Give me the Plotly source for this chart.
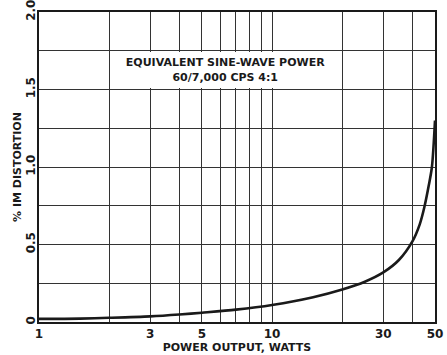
import math
import plotly.graph_objects as go

# Intermodulation distortion vs. power output (equivalent sine-wave power)
power_watts = [1, 1.5, 2, 3, 4, 5, 7, 10, 15, 20, 25, 30, 35, 40, 43, 45, 47, 48.5, 50]
im_distortion_pct = [0.02, 0.022, 0.027, 0.036, 0.048, 0.06, 0.08, 0.11, 0.16, 0.21,
                     0.26, 0.32, 0.40, 0.52, 0.63, 0.74, 0.88, 1.0, 1.3]

x_grid_vals = [1, 2, 3, 4, 5, 6, 7, 8, 9, 10, 20, 30, 40, 50]
x_tick_text = ["1", "", "3", "", "5", "", "", "", "", "10", "", "30", "", "50"]
y_grid_vals = [0, 0.25, 0.5, 0.75, 1.0, 1.25, 1.5, 1.75, 2.0]
y_tick_text = ["0", "", "0.5", "", "1.0", "", "1.5", "", "2.0"]

box_lines = ["EQUIVALENT SINE-WAVE POWER", "60/7,000 CPS 4:1"]

FONT = "DejaVu Sans"
INK = "#1a1a1a"

fig = go.Figure()
fig.add_trace(go.Scatter(
    x=power_watts, y=im_distortion_pct, mode="lines",
    line=dict(color=INK, width=2.6, shape="spline", smoothing=0.8),
    showlegend=False, hoverinfo="skip",
))

# caption panel blanking the grid cell between 2 and 20 W, 1.5 and 1.75 %
fig.add_annotation(
    x=math.log10(math.sqrt(2 * 20)), y=1.625, xref="x", yref="y",
    text="<b>" + "<br>".join(box_lines) + "</b>",
    showarrow=False, bgcolor="white", borderpad=0, borderwidth=0,
    width=229, height=36, align="center",
    font=dict(family=FONT, size=11, color=INK),
)

fig.update_xaxes(
    type="log", range=[0, math.log10(50)], automargin=False,
    tickmode="array", tickvals=x_grid_vals, ticktext=x_tick_text,
    ticklabeloverflow="allow",
    showgrid=True, gridcolor="#333333", gridwidth=1.3,
    showline=True, linecolor=INK, linewidth=1.8, mirror=True,
    ticks="", zeroline=False,
    tickfont=dict(family=FONT, size=12, color=INK, weight="bold"),
    title=dict(text="<b>POWER OUTPUT, WATTS</b>", standoff=2,
               font=dict(family=FONT, size=11, color=INK)),
)
fig.update_yaxes(
    range=[0, 2.0], automargin=False,
    tickmode="array", tickvals=y_grid_vals, ticktext=y_tick_text,
    tickangle=-90, ticklabeloverflow="allow", ticklabelstandoff=-3,
    showgrid=True, gridcolor="#333333", gridwidth=1.3,
    showline=True, linecolor=INK, linewidth=1.8, mirror=True,
    ticks="", zeroline=False,
    tickfont=dict(family=FONT, size=12, color=INK, weight="bold"),
    title=dict(text="<b>% IM DISTORTION</b>", standoff=0,
               font=dict(family=FONT, size=11, color=INK)),
)

fig.update_layout(
    template="none",
    width=447, height=355,
    margin=dict(l=39, r=12, t=12, b=33),
    paper_bgcolor="white", plot_bgcolor="white",
)

fig.write_html("out.html")
